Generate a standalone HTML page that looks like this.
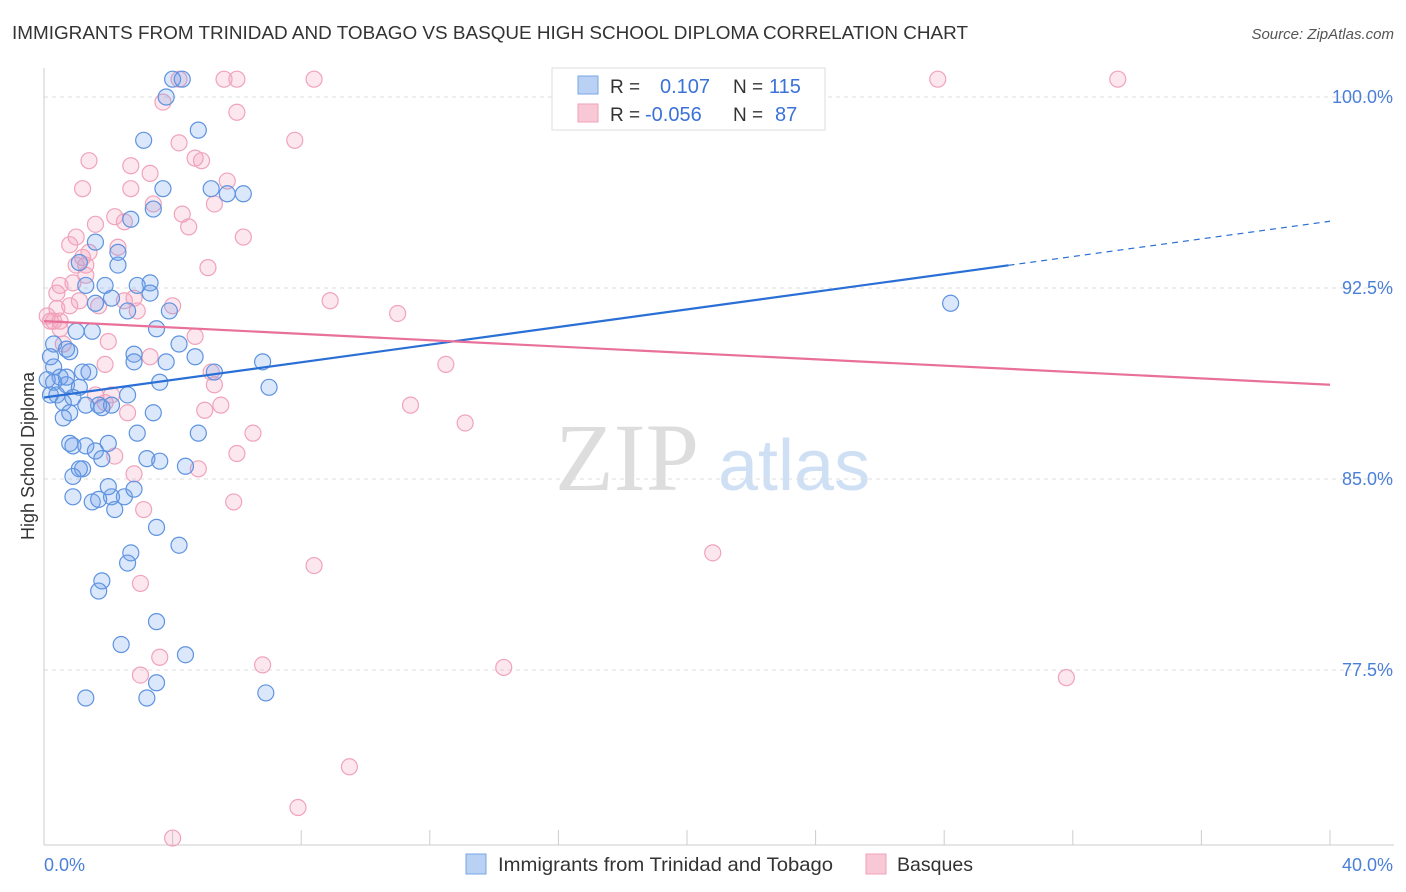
<!DOCTYPE html>
<html><head><meta charset="utf-8"><style>
body{margin:0;background:#fff;font-family:"Liberation Sans",sans-serif;}
#wrap{position:relative;width:1406px;height:892px;overflow:hidden;}
</style></head><body>
<div id="wrap">
<svg id="svg" width="1406" height="892">
<text x="12" y="39" font-size="18" fill="#333" textLength="956" lengthAdjust="spacingAndGlyphs">IMMIGRANTS FROM TRINIDAD AND TOBAGO VS BASQUE HIGH SCHOOL DIPLOMA CORRELATION CHART</text>
<text x="1394" y="39" font-size="15" fill="#555" font-style="italic" text-anchor="end">Source: ZipAtlas.com</text>
<text x="555" y="490" font-size="96" fill="#ddd" font-family="Liberation Serif,serif">ZIP</text>
<text x="718" y="490" font-size="72" fill="#cfe0f5">atlas</text>
<text transform="translate(34,456) rotate(-90)" font-size="18" fill="#333" text-anchor="middle">High School Diploma</text>
<g id="grid"></g><g id="pts"></g><g id="lines"></g>
<g>
<rect x="552" y="68" width="273" height="62" fill="#fff" stroke="#ddd"/>
<rect x="578" y="76" width="20" height="18" fill="#b9d1f3" stroke="#7aa6e6"/>
<rect x="578" y="104" width="20" height="18" fill="#f9c8d6" stroke="#eea3ba"/>
<text x="610" y="93" font-size="19" fill="#333">R =</text>
<text x="660" y="93" font-size="20" fill="#3a72d8">0.107</text>
<text x="733" y="93" font-size="19" fill="#333">N =</text>
<text x="769" y="93" font-size="20" fill="#3a72d8">115</text>
<text x="610" y="121" font-size="19" fill="#333">R =</text>
<text x="645" y="121" font-size="20" fill="#3a72d8">-0.056</text>
<text x="733" y="121" font-size="19" fill="#333">N =</text>
<text x="775" y="121" font-size="20" fill="#3a72d8">87</text>
</g>
<g>
<rect x="466" y="854" width="20" height="20" fill="#b9d1f3" stroke="#7aa6e6"/>
<text x="498" y="871" font-size="19.5" fill="#333" textLength="335" lengthAdjust="spacingAndGlyphs">Immigrants from Trinidad and Tobago</text>
<rect x="866" y="854" width="20" height="20" fill="#f9c8d6" stroke="#eea3ba"/>
<text x="897" y="871" font-size="19.5" fill="#333" textLength="76" lengthAdjust="spacingAndGlyphs">Basques</text>
</g>
<text x="44" y="871" font-size="18" fill="#4a7fd8">0.0%</text>
<text x="1393" y="871" font-size="18" fill="#4a7fd8" text-anchor="end">40.0%</text>
</svg>
</div>
<script>
const yTicks=[100,92.5,85,77.5];
const xTicks=[0,4,8,12,16,20,24,28,32,36,40];
const blueX=[4.0,4.3,3.8,4.8,3.1,3.7,5.2,5.7,6.2,3.4,2.7,1.6,2.3,2.3,1.1,3.3,2.9,1.9,1.3,3.3,2.1,1.6,2.6,3.9,3.5,1.0,1.5,4.2,2.8,4.7,2.8,3.8,6.8,5.3,0.3,0.7,0.8,0.2,0.3,1.2,1.4,0.5,0.1,0.3,0.7,1.1,3.6,7.0,2.6,0.2,0.4,0.9,0.6,1.7,2.1,1.8,3.4,0.8,0.6,2.9,0.8,1.3,0.9,2.0,1.6,3.2,3.6,1.8,4.4,1.2,1.1,0.9,4.8,0.9,1.5,2.1,2.5,2.8,2.0,2.2,1.7,3.5,4.2,2.7,2.6,1.8,1.7,3.5,2.4,4.4,3.5,1.3,3.2,6.9,28.2,1.3,0.7];
const blueY=[100.7,100.7,100.0,98.7,98.3,96.4,96.4,96.2,96.2,95.6,95.2,94.3,93.9,93.4,93.5,92.7,92.6,92.6,92.6,92.3,92.1,91.9,91.6,91.6,90.9,90.8,90.8,90.3,89.9,89.8,89.6,89.6,89.6,89.2,90.3,90.1,90.0,89.8,89.4,89.2,89.2,89.0,88.9,88.8,88.7,88.6,88.8,88.6,88.3,88.3,88.3,88.2,88.0,87.9,87.9,87.8,87.6,87.6,87.4,86.8,86.4,86.3,86.3,86.4,86.1,85.8,85.7,85.8,85.5,85.4,85.4,85.1,86.8,84.3,84.1,84.3,84.3,84.6,84.7,83.8,84.2,83.1,82.4,82.1,81.7,81.0,80.6,79.4,78.5,78.1,77.0,76.4,76.4,76.6,91.9,87.9,89.0];
const pinkX=[4.2,5.6,6.0,8.4,27.8,33.4,3.7,6.0,7.8,4.2,1.4,4.7,4.9,2.7,3.3,5.7,1.2,2.7,5.3,3.4,4.3,2.2,2.5,1.6,1.0,6.2,4.5,0.8,2.3,1.4,1.2,1.0,1.3,5.1,0.9,0.5,0.4,0.8,8.9,11.0,4.0,2.9,2.5,0.4,0.2,0.5,4.7,2.0,3.3,1.9,12.5,5.2,5.3,1.6,2.1,1.9,11.4,5.5,5.0,2.6,13.1,6.5,6.0,2.2,2.8,4.8,5.9,3.1,20.8,8.4,3.0,3.6,6.8,14.3,3.0,31.8,9.5,7.9,4.0,0.3,0.1,0.5,0.6,1.1,1.7,1.3,2.8];
const pinkY=[100.7,100.7,100.7,100.7,100.7,100.7,99.8,99.4,98.3,98.2,97.5,97.6,97.5,97.3,97.0,96.7,96.4,96.4,95.8,95.8,95.4,95.3,95.1,95.0,94.5,94.5,94.9,94.2,94.1,93.9,93.7,93.4,93.4,93.3,92.7,92.6,92.3,91.8,92.0,91.5,91.8,91.6,92.0,91.7,91.2,90.9,90.6,90.4,89.8,89.5,89.5,89.2,88.7,88.3,88.3,88.0,87.9,87.9,87.7,87.6,87.2,86.8,86.0,85.9,85.2,85.4,84.1,83.8,82.1,81.6,80.9,78.0,77.7,77.6,77.3,77.2,73.7,72.1,70.9,91.2,91.4,91.2,90.3,92.0,91.8,93.0,92.1];
const blueTrend=[88.2,0.173];
const pinkTrend=[91.2,-0.0625];
const NS='http://www.w3.org/2000/svg';
function sx(v){return 44+v*(1286/40);}
function sy(v){return 97+(100-v)*(191/7.5);}
function mk(t,a,p){const e=document.createElementNS(NS,t);for(const k in a)e.setAttribute(k,a[k]);p.appendChild(e);return e;}
const grid=document.getElementById('grid');
yTicks.forEach(t=>{
 const l=mk('line',{x1:44,x2:1394,y1:sy(t),y2:sy(t),stroke:'#ddd','stroke-dasharray':'4,4'},grid);
 
 
 const tx=mk('text',{x:1393,y:sy(t)+6,'font-size':18,fill:'#4a7fd8','text-anchor':'end'},grid);
 tx.textContent=t.toFixed(1)+'%';
 
 
});
mk('line',{x1:44,x2:44,y1:68,y2:845,stroke:'#ccc'},grid);
mk('line',{x1:44,x2:1394,y1:845,y2:845,stroke:'#ccc'},grid);
xTicks.forEach(t=>{
 const l=mk('line',{x1:sx(t),x2:sx(t),y1:830,y2:845,stroke:'#ccc'},grid);
 
 
});
const pts=document.getElementById('pts');
pinkX.forEach((x,i)=>{
 const c=mk('circle',{cx:sx(x),cy:sy(pinkY[i]),r:8,fill:'rgba(244,160,186,0.25)',stroke:'#f0a3bb','stroke-width':1.2},pts);
 
 
});
blueX.forEach((x,i)=>{
 const c=mk('circle',{cx:sx(x),cy:sy(blueY[i]),r:8,fill:'rgba(110,160,235,0.25)',stroke:'#5e93e0','stroke-width':1.2},pts);
 
 
});
const lines=document.getElementById('lines');
const f=(tr,x)=>tr[0]+tr[1]*x;
let b1=mk('line',{x1:sx(0),y1:sy(f(blueTrend,0)),x2:sx(30),y2:sy(f(blueTrend,30)),stroke:'#2a6fd6','stroke-width':2.2},lines);


let b2=mk('line',{x1:sx(30),y1:sy(f(blueTrend,30)),x2:sx(40),y2:sy(f(blueTrend,40)),stroke:'#2a6fd6','stroke-width':1.2,'stroke-dasharray':'6,5'},lines);


let p1=mk('line',{x1:sx(0),y1:sy(f(pinkTrend,0)),x2:sx(40),y2:sy(f(pinkTrend,40)),stroke:'#e8709a','stroke-width':2.2},lines);


</script>
</body></html>
